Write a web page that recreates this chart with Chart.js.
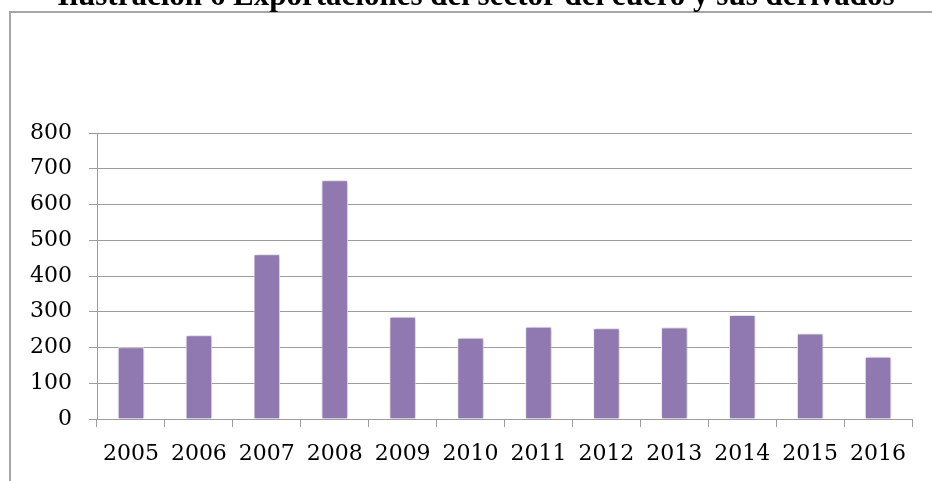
<!DOCTYPE html>
<html>
<head>
<meta charset="utf-8">
<script src="https://cdn.jsdelivr.net/npm/chart.js@4"></script>
<style>
  html, body { margin: 0; padding: 0; background: #fff; }
  canvas { display: block; }
</style>
</head>
<body>
<canvas id="exportChart" width="932" height="481"></canvas>
<script>
// Data
const titleText = 'Ilustración 6 Exportaciones del sector del cuero y sus derivados';
const years = ['2005', '2006', '2007', '2008', '2009', '2010', '2011', '2012', '2013', '2014', '2015', '2016'];
const exportValues = [201, 234, 461, 668, 286, 227, 258, 254, 256, 291, 239, 174];
const yTicks = [0, 100, 200, 300, 400, 500, 600, 700, 800];

const gridGray = '#9c9c9c';
const labelFont = { family: '"DejaVu Serif", serif', size: 22 };

// Frame and cut-off title, drawn like the original document crop
const framePlugin = {
    id: 'frame',
    beforeDraw(chart) {
        const ctx = chart.ctx;
        ctx.save();
        ctx.fillStyle = '#fff';
        ctx.fillRect(0, 0, chart.width, chart.height);
        ctx.strokeStyle = '#a6a6a6';
        ctx.lineWidth = 2;
        ctx.beginPath();
        ctx.moveTo(10, chart.height + 5);
        ctx.lineTo(10, 12);
        ctx.lineTo(chart.width + 5, 12);
        ctx.stroke();
        ctx.restore();
    },
    afterDraw(chart) {
        const ctx = chart.ctx;
        ctx.save();
        ctx.font = 'bold 31px "Liberation Serif", "Times New Roman", serif';
        ctx.fillStyle = '#000';
        ctx.textAlign = 'center';
        ctx.textBaseline = 'alphabetic';
        ctx.fillText(titleText, 476, 5);
        ctx.restore();
    }
};

// Soft shadow behind the bars
const shadowPlugin = {
    id: 'barShadow',
    beforeDatasetsDraw(chart) {
        const ctx = chart.ctx;
        ctx.save();
        ctx.shadowColor = 'rgba(0, 0, 0, 0.28)';
        ctx.shadowBlur = 4;
        ctx.shadowOffsetX = 1;
        ctx.shadowOffsetY = 0;
    },
    afterDatasetsDraw(chart) {
        chart.ctx.restore();
    }
};

const ctx = document.getElementById('exportChart').getContext('2d');
new Chart(ctx, {
    type: 'bar',
    data: {
        labels: years,
        datasets: [{
            label: 'Exportaciones',
            data: exportValues,
            backgroundColor: '#9079b1',
            borderColor: '#ffffff',
            borderWidth: 1,
            barPercentage: 0.39,
            categoryPercentage: 1
        }]
    },
    options: {
        responsive: false,
        animation: false,
        devicePixelRatio: 1,
        layout: { padding: { top: 133, right: 20, bottom: 0, left: 0 } },
        plugins: {
            legend: { display: false },
            title: { display: false },
            tooltip: { enabled: false }
        },
        scales: {
            x: {
                grid: {
                    offset: true,
                    drawOnChartArea: false,
                    drawTicks: true,
                    tickLength: 8,
                    color: gridGray
                },
                border: { color: gridGray },
                ticks: {
                    color: '#000',
                    font: labelFont,
                    padding: 14,
                    maxRotation: 0,
                    autoSkip: false
                },
                afterFit(scale) { scale.height = 62; }
            },
            y: {
                min: 0,
                max: 800,
                afterBuildTicks(scale) {
                    scale.ticks = yTicks.map(v => ({ value: v }));
                },
                grid: {
                    color: gridGray,
                    tickLength: 8
                },
                border: { color: gridGray },
                ticks: {
                    color: '#000',
                    font: labelFont,
                    padding: 17
                },
                afterFit(scale) { scale.width = 97; }
            }
        }
    },
    plugins: [framePlugin, shadowPlugin]
});
</script>
</body>
</html>
